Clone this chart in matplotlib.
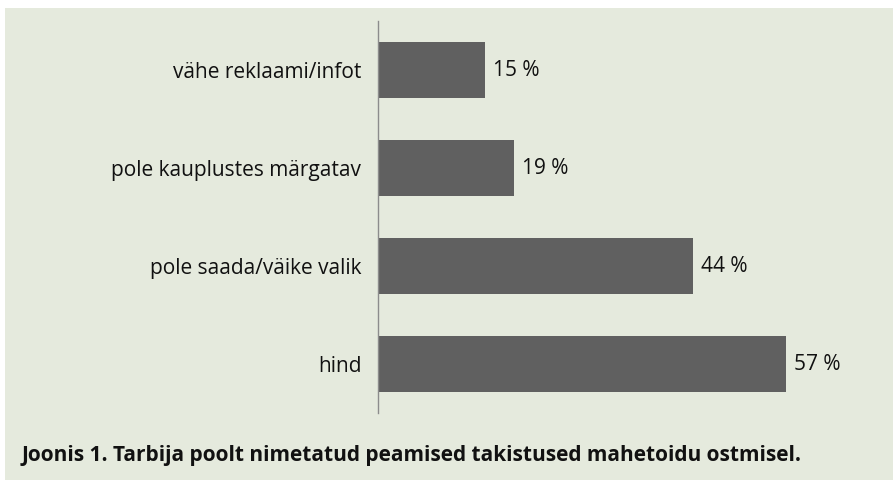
import matplotlib.pyplot as plt
from matplotlib.patches import Rectangle

categories = ["hind", "pole saada/väike valik", "pole kauplustes märgatav", "vähe reklaami/infot"]
values = [57, 44, 19, 15]
caption = "Joonis 1. Tarbija poolt nimetatud peamised takistused mahetoidu ostmisel."

bg = "#e5eadd"
bar_color = "#606060"

plt.rcParams["font.family"] = ["Open Sans", "DejaVu Sans"]

fig = plt.figure(figsize=(8.95, 4.86), dpi=100)
fig.patch.set_facecolor("white")
# light green panel behind everything
fig.patches.append(Rectangle((5 / 895, 6 / 486), 888 / 895, 472 / 486,
                             transform=fig.transFigure, facecolor=bg,
                             edgecolor="none", zorder=-1))

ax = fig.add_axes([378 / 895, 1 - 413 / 486, 501 / 895, 392 / 486])
ax.set_facecolor("none")

ypos = list(range(len(categories)))
bars = ax.barh(ypos, values, height=0.58, color=bar_color)
for b, v in zip(bars, values):
    ax.text(b.get_width() + 1.1, b.get_y() + b.get_height() / 2, f"{v} %",
            va="center", ha="left", fontsize=15, color="#111111")

ax.set_xlim(0, 70)
ax.set_ylim(-0.5, 3.5)
ax.set_yticks(ypos)
ax.set_yticklabels(categories, fontsize=15, color="#111111")
ax.tick_params(axis="y", length=0, pad=12)
ax.set_xticks([])
for side in ["top", "right", "bottom"]:
    ax.spines[side].set_visible(False)
ax.spines["left"].set_color("#8c8c8c")
ax.spines["left"].set_linewidth(1.0)

fig.text(22 / 895, 1 - 455 / 486, caption, fontsize=15, fontweight="bold",
         va="center", ha="left", color="#111111")

fig.savefig("out.png", dpi=100, facecolor=fig.get_facecolor())
